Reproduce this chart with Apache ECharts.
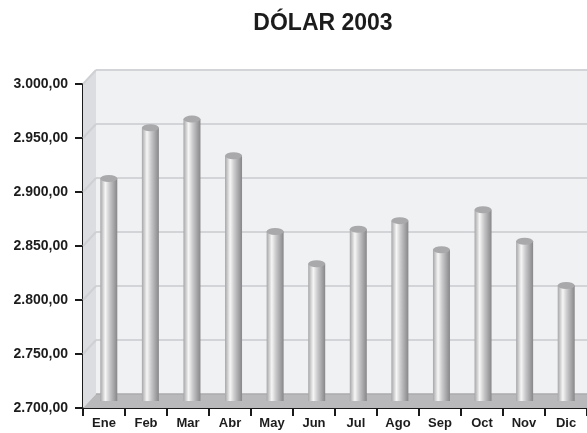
<!DOCTYPE html>
<html><head><meta charset="utf-8">
<script src="https://cdn.jsdelivr.net/npm/echarts@6/dist/echarts.min.js"></script>
<style>html,body{margin:0;padding:0;background:#fff}#c{width:587px;height:433px}</style>
</head><body><div id="c"></div>
<script>
const categories = ['Ene','Feb','Mar','Abr','May','Jun','Jul','Ago','Sep','Oct','Nov','Dic'];
const dolar2003 = [2906, 2953, 2961, 2927, 2857, 2827, 2859, 2867, 2840, 2877, 2848, 2807];
const yTicks = [2700, 2750, 2800, 2850, 2900, 2950, 3000];
const yMin = 2700, yMax = 3000, yStep = 50;

function fmt(v){
  const s = Math.round(v).toString();
  return s.replace(/\B(?=(\d{3})+(?!\d))/g,'.') + ',00';
}

const chart = echarts.init(document.getElementById('c'), null, {renderer:'canvas'});
const FONT = '"Liberation Sans", Arial, Helvetica, sans-serif';
const W = 511, H = 324;
const front = {left:83, top:84, width:W, height:H};
const back = {left:96, top:70, width:W, height:H, show:true, backgroundColor:'#f0f1f3', borderWidth:0};
const bars = {left:88, top:77, width:W, height:H};

const yBase = {type:'value', min:yMin, max:yMax, interval:yStep};
const option = {
  animation:false,
  backgroundColor:'#ffffff',
  title:{text:'DÓLAR 2003', left:318, textAlign:'center', top:7,
    textStyle:{fontFamily:FONT, fontSize:23, fontWeight:'bold', color:'#1c1c1c'}},
  grid:[front, back, bars],
  xAxis:[
    {type:'category', data:categories, gridIndex:0,
      axisLine:{show:true, lineStyle:{color:'#1a1a1a', width:2}},
      axisTick:{show:true, inside:false, length:8, lineStyle:{color:'#1a1a1a', width:2}},
      axisLabel:{margin:9, fontFamily:FONT, fontSize:13, fontWeight:'bold', color:'#1c1c1c'},
      splitLine:{show:false}},
    {type:'category', data:categories, gridIndex:1, axisLine:{show:false}, axisTick:{show:false}, axisLabel:{show:false}, splitLine:{show:false}},
    {type:'category', data:categories, gridIndex:2, axisLine:{show:false}, axisTick:{show:false}, axisLabel:{show:false}, splitLine:{show:false}}
  ],
  yAxis:[
    Object.assign({}, yBase, {gridIndex:0,
      axisLine:{show:true, lineStyle:{color:'#1a1a1a', width:2}},
      axisTick:{show:true, length:8, lineStyle:{color:'#1a1a1a', width:2}},
      axisLabel:{margin:15, fontFamily:FONT, fontSize:14, fontWeight:'bold', color:'#1c1c1c', formatter:fmt},
      splitLine:{show:false}}),
    Object.assign({}, yBase, {gridIndex:1, axisLine:{show:false}, axisTick:{show:false}, axisLabel:{show:false},
      splitLine:{show:true, lineStyle:{color:'#d3d4d7', width:2}}}),
    Object.assign({}, yBase, {gridIndex:2, show:false})
  ],
  series:[
    {type:'bar', xAxisIndex:2, yAxisIndex:2, data:dolar2003, barWidth:17, z:3,
      itemStyle:{color:new echarts.graphic.LinearGradient(0,0,1,0,[
        {offset:0, color:'#a6a6a8'},
        {offset:0.3, color:'#f6f6f6'},
        {offset:0.55, color:'#c9c9cb'},
        {offset:1, color:'#878789'}])}},
    {type:'scatter', xAxisIndex:2, yAxisIndex:2, data:dolar2003, symbol:'circle', symbolSize:[17,7], z:4,
      itemStyle:{color:'#a9a9ab', opacity:1}}
  ]
};
chart.setOption(option);

// 3D box decoration (left wall, floor, wall gridlines) derived from the axes' own scales
const g = [];
const fTop = chart.convertToPixel({xAxisIndex:0, yAxisIndex:0}, [0, yMax]);
const fBot = chart.convertToPixel({xAxisIndex:0, yAxisIndex:0}, [0, yMin]);
const bTop = chart.convertToPixel({xAxisIndex:1, yAxisIndex:1}, [0, yMax]);
const bBot = chart.convertToPixel({xAxisIndex:1, yAxisIndex:1}, [0, yMin]);
const fx = front.left, bx = back.left;
const fR = front.left + W, bR = back.left + W;
g.push({type:'polygon', z:1, shape:{points:[[fx,fTop[1]],[bx,bTop[1]],[bx,bBot[1]],[fx,fBot[1]]]}, style:{fill:'#dcdde0'}});
g.push({type:'polygon', z:1, shape:{points:[[fx,fBot[1]],[bx,bBot[1]],[bR,bBot[1]],[fR,fBot[1]]]}, style:{fill:'#b9b9bb'}});
yTicks.forEach(v=>{
  const a = chart.convertToPixel({xAxisIndex:0, yAxisIndex:0}, [0, v]);
  const b = chart.convertToPixel({xAxisIndex:1, yAxisIndex:1}, [0, v]);
  if (v !== yMin) g.push({type:'line', z:1, shape:{x1:fx, y1:a[1], x2:bx, y2:b[1]}, style:{stroke:'#cfd0d3', lineWidth:2}});
});
g.push({type:'line', z:1, shape:{x1:bx, y1:bBot[1], x2:bR, y2:bBot[1]}, style:{stroke:'#a5a5a7', lineWidth:1}});
chart.setOption({graphic:g});
</script>
</body></html>
